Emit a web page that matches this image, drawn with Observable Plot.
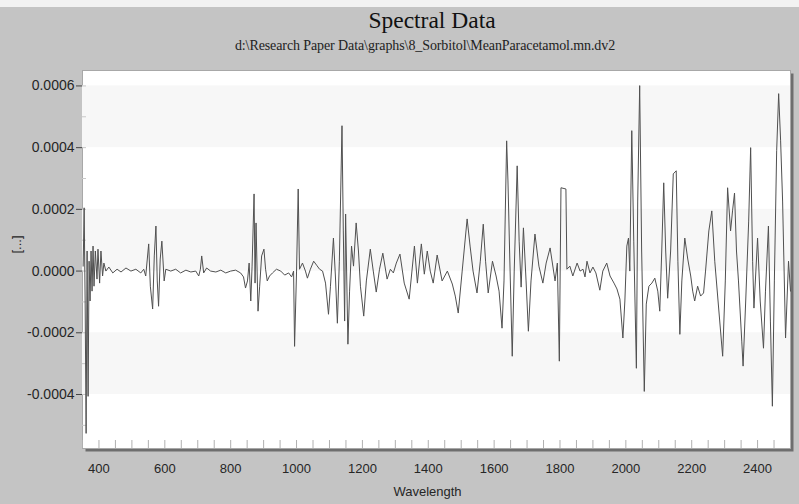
<!DOCTYPE html>
<html><head><meta charset="utf-8">
<script src="https://cdn.jsdelivr.net/npm/d3@7"></script>
<script src="https://cdn.jsdelivr.net/npm/@observablehq/plot@0.6"></script>
<style>
html,body{margin:0;padding:0;background:#c4c4c4;}
#wrap{width:799px;height:504px;position:relative;overflow:hidden;background:#c4c4c4;}
#strip{height:7px;background:#f2f2f2;}
#head{height:55px;position:relative;}
#title{position:absolute;left:432px;top:0px;transform:translateX(-50%);font:23.5px "Liberation Serif",serif;color:#111;white-space:nowrap;line-height:26px;}
#sub{position:absolute;left:425px;top:31px;transform:translateX(-50%);font:14px "Liberation Serif",serif;color:#222;white-space:nowrap;line-height:15px;letter-spacing:-0.1px;}
svg{display:block;}
</style></head>
<body>
<div id="wrap">
  <div id="strip"></div>
  <div id="head">
    <div id="title">Spectral Data</div>
    <div id="sub">d:\Research Paper Data\graphs\8_Sorbitol\MeanParacetamol.mn.dv2</div>
  </div>
  <div id="chart"></div>
</div>
<script>
// Wavelength (nm)
const wavelength = [
  352,355,358,361,364,367,370,373,376,379,
  382,385,389,394,397,402,406,411,415,421,
  430,442,455,467,482,497,512,527,536,542,
  551,556,563,568,573,577,581,586,591,598,
  603,618,633,648,664,679,694,703,708,712,
  718,727,739,755,770,785,800,815,830,839,
  845,851,856,861,865,871,874,877,883,888,
  894,901,906,911,918,927,939,952,964,976,
  985,991,994,1000,1005,1009,1018,1027,1033,1042,
  1052,1061,1070,1079,1088,1097,1103,1112,1118,1124,
  1130,1138,1142,1146,1149,1156,1161,1167,1173,1181,
  1188,1194,1204,1212,1224,1233,1242,1252,1262,1275,
  1285,1294,1303,1314,1327,1342,1358,1367,1379,1388,
  1397,1406,1415,1427,1442,1458,1473,1482,1491,1503,
  1518,1527,1536,1548,1558,1567,1574,1582,1595,1606,
  1615,1624,1630,1638,1642,1647,1655,1661,1670,1676,
  1682,1689,1697,1704,1712,1724,1736,1748,1758,1770,
  1785,1792,1798,1803,1818,1821,1830,1839,1852,1861,
  1870,1876,1882,1891,1900,1909,1921,1930,1942,1952,
  1964,1973,1982,1991,1997,2003,2008,2012,2018,2024,
  2032,2036,2042,2048,2056,2062,2070,2079,2088,2097,
  2103,2109,2115,2121,2127,2136,2144,2153,2158,2164,
  2170,2179,2188,2197,2203,2209,2218,2227,2236,2242,
  2252,2261,2270,2280,2294,2302,2309,2318,2324,2330,
  2336,2342,2352,2356,2364,2373,2379,2385,2389,2400,
  2408,2418,2424,2433,2439,2445,2451,2458,2464,2470,
  2476,2485,2494,2500
];
// Spectral value at each wavelength
const spectrum = [
  0.000016,0.000205,-0.000097,-0.000526,0.000065,-0.000406,0.000032,-0.000097,0.000065,-0.000065,
  0.000081,-0.000049,0.000065,-0.000026,0.000071,-0.000039,0.000065,-0.000016,0.000026,0,
  0.000013,-0.000006,0.000006,-0.000003,0.00001,0,0.000006,-0.000006,0.000006,-0.000016,
  0.000088,-0.000049,-0.000123,0.000049,0.000146,-0.000032,-0.000114,0.000039,0.000097,-0.000032,
  0.000006,0,0.000006,-0.000006,0.000003,-0.000003,0,-0.000016,0.000006,0.000049,
  -0.000006,0.00001,0,-0.000003,0.000003,-0.000006,0,0.000003,-0.000006,-0.000019,
  -0.000055,-0.000032,0.000026,-0.000097,0.000016,0.00025,-0.000039,0.000156,-0.00013,-0.000049,
  0.000049,0.000071,0.000006,-0.000032,-0.000016,-0.000006,0.000006,0,-0.000013,-0.000006,
  -0.000019,0,-0.000244,0,0.000266,0.000006,0.000026,0,-0.000023,0.000006,
  0.000032,0.000019,0.000006,0,-0.000039,-0.00014,-0.000049,0.000107,-0.000016,-0.000169,
  0.000032,0.000471,0.00013,-0.000162,0.000185,-0.000237,-0.000065,0.000081,0.000016,0.000156,
  0.000065,-0.000049,-0.000146,-0.000032,0.000071,0,-0.000068,0.000006,0.000058,-0.000026,
  0.000006,-0.000006,0.000026,0.000055,-0.000039,-0.000091,0.000081,-0.000039,0.000088,-0.00001,
  0.000065,0,-0.000039,0.000052,-0.000032,0,-0.000042,-0.000081,-0.000136,0,
  0.000169,0.000081,0,-0.000071,0.000032,0.000152,0.000032,-0.000071,0.000032,-0.000016,
  -0.000065,-0.000185,-0.000032,0.000422,0.000292,0.000065,-0.000276,0,0.000341,0.000097,
  -0.000052,0.00014,-0.000032,-0.000195,-0.000032,0.00012,0.000016,-0.000039,0.000026,0.000075,
  -0.000032,0.000026,-0.000292,0.00027,0.000266,0.000006,0.000016,-0.000016,0.000026,0,
  0.000006,-0.000019,0.000032,-0.000006,0.000013,-0.000006,-0.000062,0,0.000026,-0.000016,
  -0.000039,-0.000058,-0.000091,-0.000217,-0.000097,0.000081,0.000107,0,0.000455,0.000097,
  -0.000315,0.000227,0.000601,0.000065,-0.00039,-0.000107,-0.000049,-0.000039,-0.000023,-0.000065,
  -0.00013,0.000065,0.000286,0.000065,-0.000088,0.000065,0.000315,0.000325,0.000032,-0.000205,
  -0.000032,0.000107,0.000039,-0.000016,-0.000065,-0.000097,-0.000049,-0.000081,-0.000071,0,
  0.00013,0.000195,0.000032,-0.000097,-0.000276,-0.000032,0.00027,0.00013,0.000195,0.000253,
  0.000065,-0.000032,-0.000227,-0.000308,-0.000097,0.000162,0.0004,0.000032,-0.00012,0.000107,
  -0.000097,-0.00025,-0.000065,0.000146,-0.000162,-0.000438,-0.000032,0.00039,0.000575,0.000422,
  0.000227,-0.000217,0.000032,-0.000065
];
const xTicks = [400,600,800,1000,1200,1400,1600,1800,2000,2200,2400];
const yTicks = [-0.0004,-0.0002,0,0.0002,0.0004,0.0006];
const xDomain = [350, 2500];
const yDomain = [-0.000575, 0.00065];
const xLabel = "Wavelength";
const yLabel = "[...]";

const data = wavelength.map((w, i) => ({w, v: spectrum[i]}));
const bands = [];
for (let i = 0; i + 1 < yTicks.length; i += 2) bands.push({lo: yTicks[i], hi: yTicks[i + 1]});
const xMinor = d3.range(xDomain[0], xDomain[1] + 1, 50);
const yMinor = d3.range(-0.0005, 0.00065, 0.0001);

const chart = Plot.plot({
  width: 799, height: 442,
  marginLeft: 82, marginRight: 9, marginTop: 8, marginBottom: 56,
  style: {background: "transparent", fontFamily: "'Liberation Sans', Arial, sans-serif", fontSize: "13px", color: "#262626", overflow: "visible"},
  x: {domain: xDomain},
  y: {domain: yDomain},
  marks: [
    Plot.frame({fill: "#6e6e6e", stroke: null, dx: 3, dy: 3}),
    Plot.frame({fill: "white", stroke: "#a8a8a8"}),
    Plot.rect(bands, {y1: "lo", y2: "hi", fill: "#f7f7f7"}),
    Plot.axisX({ticks: xMinor, tickSize: -8, tickFormat: () => "", label: null, stroke: "#b0b0b0"}),
    Plot.axisY({ticks: yMinor, tickSize: -4, tickFormat: () => "", label: null, stroke: "#c8c8c8"}),
    Plot.line(data, {x: "w", y: "v", stroke: "#505050", strokeWidth: 1}),
    Plot.axisY({ticks: yTicks, tickFormat: d => d.toFixed(4), tickSize: 6, tickPadding: 2, fontSize: 14, label: null, stroke: "#444"}),
    Plot.axisX({ticks: xTicks, tickFormat: d => String(d), tickSize: 0, tickPadding: 15, fontSize: 13, label: null}),
    Plot.text([xLabel], {text: d => d, frameAnchor: "bottom", dy: 47, dx: -9, fontSize: 13, fill: "#262626"}),
    Plot.text([yLabel], {text: d => d, frameAnchor: "left", dx: -66, dy: -6, rotate: -90, fontSize: 13, fill: "#262626"})
  ]
});
document.getElementById("chart").appendChild(chart);
</script>
</body></html>
